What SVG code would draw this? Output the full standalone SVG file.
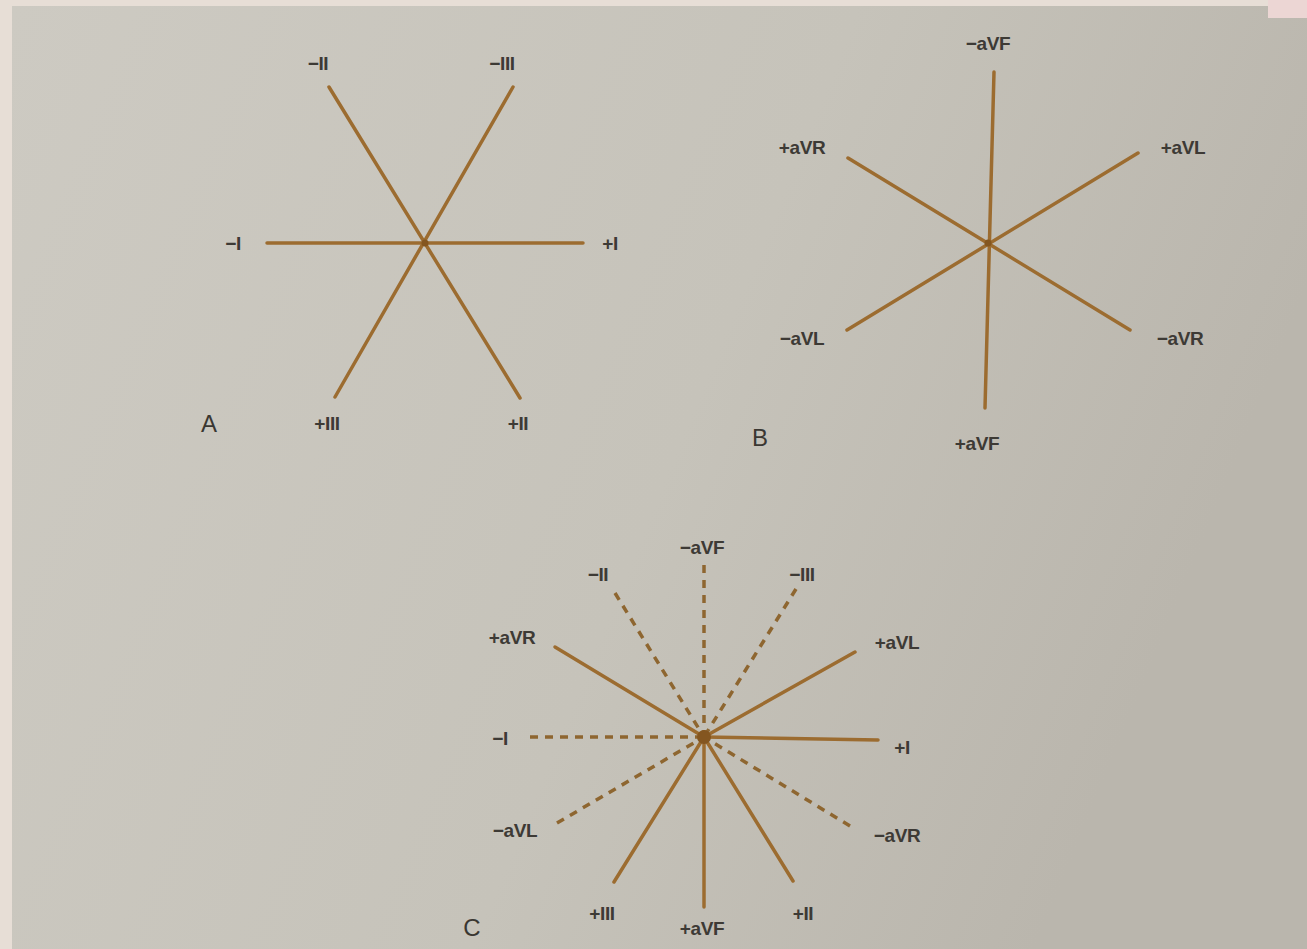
<svg xmlns="http://www.w3.org/2000/svg" width="1307" height="949" viewBox="0 0 1307 949">
<defs>
<linearGradient id="page" x1="0" y1="0" x2="1" y2="0.3">
<stop offset="0" stop-color="#cdcac2"/>
<stop offset="0.6" stop-color="#c6c3ba"/>
<stop offset="1" stop-color="#bab6ad"/>
</linearGradient>
<style>
.ax{stroke:#9c6c30;stroke-width:3.5;stroke-linecap:round;fill:none}
.dash{stroke:#8e6630;stroke-width:3.5;stroke-dasharray:8 7;fill:none}
.lb{font-family:"Liberation Sans",Arial,sans-serif;font-size:19px;font-weight:bold;letter-spacing:-0.4px;fill:#3d3a35;text-anchor:middle;dominant-baseline:central}
.big{font-family:"Liberation Sans",Arial,sans-serif;font-size:24px;fill:#3a3732;text-anchor:middle;dominant-baseline:central}
</style>
</defs>
<rect width="1307" height="949" fill="#e7ded6"/>
<rect x="12" y="6" width="1295" height="943" fill="url(#page)"/>
<rect x="1268" y="0" width="39" height="18" fill="#ecd6d4"/>

<g id="diagramA">
<g id="A-connectors">
<line class="ax" x1="267" y1="243" x2="583" y2="243"/>
<line class="ax" x1="329" y1="87" x2="520" y2="398"/>
<line class="ax" x1="513" y1="87" x2="335" y2="397"/>
</g>
<circle cx="425" cy="243" r="3.5" fill="#845620"/>
<g id="A-labels">
<text class="lb" x="318" y="63">−II</text>
<text class="lb" x="502" y="63">−III</text>
<text class="lb" x="233" y="243">−I</text>
<text class="lb" x="610" y="243">+I</text>
<text class="lb" x="327" y="423">+III</text>
<text class="lb" x="518" y="423">+II</text>
<text class="big" x="209" y="423">A</text>
</g>
</g>

<g id="diagramB">
<g id="B-connectors">
<line class="ax" x1="994" y1="72" x2="985" y2="408"/>
<line class="ax" x1="848" y1="158" x2="1130" y2="330"/>
<line class="ax" x1="1138" y1="153" x2="847" y2="330"/>
</g>
<circle cx="988" cy="243" r="3.5" fill="#845620"/>
<g id="B-labels">
<text class="lb" x="988" y="43">−aVF</text>
<text class="lb" x="802" y="147">+aVR</text>
<text class="lb" x="1183" y="147">+aVL</text>
<text class="lb" x="802" y="338">−aVL</text>
<text class="lb" x="1180" y="338">−aVR</text>
<text class="lb" x="977" y="443">+aVF</text>
<text class="big" x="760" y="437">B</text>
</g>
</g>

<g id="diagramC">
<g id="C-connectors">
<line class="dash" x1="530" y1="737" x2="704" y2="737"/>
<line class="dash" x1="704" y1="565" x2="704" y2="737"/>
<line class="dash" x1="615" y1="593" x2="704" y2="737"/>
<line class="dash" x1="796" y1="589" x2="704" y2="737"/>
<line class="dash" x1="850" y1="826" x2="704" y2="737"/>
<line class="dash" x1="557" y1="823" x2="704" y2="737"/>
<line class="ax" x1="704" y1="737" x2="878" y2="740"/>
<line class="ax" x1="704" y1="737" x2="704" y2="907"/>
<line class="ax" x1="704" y1="737" x2="793" y2="881"/>
<line class="ax" x1="704" y1="737" x2="614" y2="882"/>
<line class="ax" x1="704" y1="737" x2="555" y2="647"/>
<line class="ax" x1="704" y1="737" x2="855" y2="652"/>
</g>
<circle cx="704" cy="737" r="7" fill="#845620"/>
<g id="C-labels">
<text class="lb" x="702" y="547">−aVF</text>
<text class="lb" x="598" y="574">−II</text>
<text class="lb" x="802" y="574">−III</text>
<text class="lb" x="512" y="637">+aVR</text>
<text class="lb" x="897" y="642">+aVL</text>
<text class="lb" x="500" y="738">−I</text>
<text class="lb" x="902" y="747">+I</text>
<text class="lb" x="515" y="830">−aVL</text>
<text class="lb" x="897" y="835">−aVR</text>
<text class="lb" x="602" y="913">+III</text>
<text class="lb" x="702" y="928">+aVF</text>
<text class="lb" x="803" y="913">+II</text>
<text class="big" x="472" y="927">C</text>
</g>
</g>
</svg>
